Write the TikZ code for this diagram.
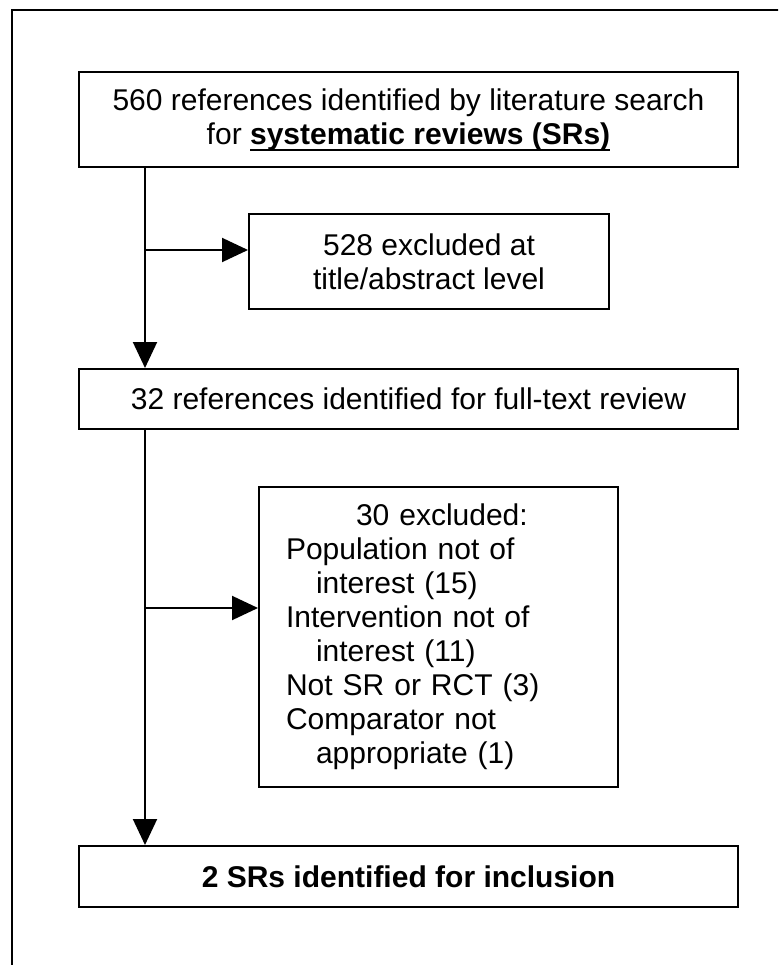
\documentclass[tikz,border=0pt]{standalone}
\usepackage{fontspec}
\setmainfont{Liberation Sans}
\usetikzlibrary{arrows.meta}

% underline drawn as a rule just below the baseline
\newcommand{\barunder}[1]{\setbox0\hbox{#1}\rlap{\rule[-6.5pt]{\wd0}{2pt}}\box0}

\tikzset{
  stagebox/.style={draw, line width=2pt, rectangle, inner sep=0pt, align=center,
    font=\fontsize{30}{34}\selectfont},
  flowline/.style={line width=2pt, -{Triangle[length=26pt,width=24pt]}},
}

\begin{document}
\begin{tikzpicture}[x=1pt,y=-1pt]
  \useasboundingbox (0,0) rectangle (778,965);

  % outer frame, cut off at the right and bottom
  \begin{scope}
    \clip (0,0) rectangle (778,965);
    \draw[line width=2pt] (12,980) -- (12,10) -- (795,10);
  \end{scope}

  % the boxes
  \node[stagebox, minimum width=659pt, minimum height=95pt] (search) at (408.5,119.5)
    {560 references identified by literature search\\ for \barunder{\textbf{systematic reviews (SRs)}}};
  \node[stagebox, minimum width=360pt, minimum height=95pt] (titleout) at (429,261.5)
    {528 excluded at\\ title/abstract level};
  \node[stagebox, minimum width=659pt, minimum height=60pt] (fulltext) at (408.5,399)
    {32 references identified for full-text review};
  \node[stagebox, minimum width=359pt, minimum height=300pt, text width=305pt,
        inner xsep=27pt, align=left] (fullout) at (438.5,637)
    {\hspace*{70pt}30 excluded:\\
     Population not of\\
     \hspace*{30pt}interest (15)\\
     Intervention not of\\
     \hspace*{30pt}interest (11)\\
     Not SR or RCT (3)\\
     Comparator not\\
     \hspace*{30pt}appropriate (1)};
  \node[stagebox, minimum width=659pt, minimum height=61pt] (included) at (408.5,876.5)
    {\textbf{2 SRs identified for inclusion}};

  % branch points on the trunk
  \coordinate (b1) at (145,250);
  \coordinate (b2) at (145,608);

  % arrows
  \draw[flowline] (search.south -| b1) -- (fulltext.north -| b1);
  \draw[flowline] (b1) -- (titleout.west |- b1);
  \draw[flowline] (fulltext.south -| b2) -- (included.north -| b2);
  \draw[flowline] (b2) -- (fullout.west |- b2);
\end{tikzpicture}
\end{document}
